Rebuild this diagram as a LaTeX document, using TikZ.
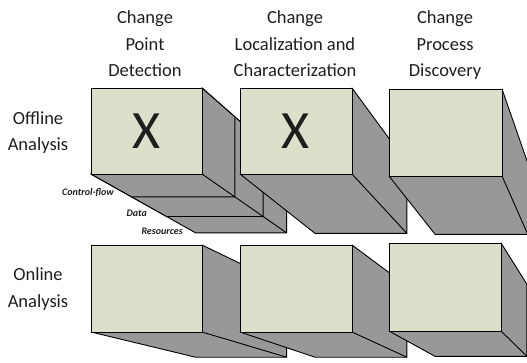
\documentclass[tikz,border=0pt]{standalone}
\usepackage{fontspec}
\setmainfont{Carlito}
\usetikzlibrary{calc}
\pgfdeclarelayer{background}
\pgfsetlayers{background,main}
\definecolor{facec}{HTML}{DCE0CB}
\definecolor{sidec}{HTML}{989898}
\definecolor{txtc}{HTML}{1E1E1E}
\tikzset{
  frontface/.style={draw=black, fill=facec, line width=0.9pt, inner sep=0pt, outer sep=0pt,
    anchor=north west, font=\fontsize{54}{54}\selectfont, text=txtc},
  sideface/.style={draw=black, fill=sidec, line width=0.9pt, line join=round},
  header/.style={align=center, anchor=north, inner sep=0pt, text=txtc,
    font=\fontsize{18.5}{26.5}\selectfont},
  layerlabel/.style={anchor=east, inner sep=0pt, text=txtc,
    font=\fontsize{10}{10}\selectfont\bfseries\itshape},
}
% #1 front node, #2 vanishing point, #3 depth factor
\newcommand{\myextrude}[3]{%
  \begin{pgfonlayer}{background}
  \filldraw[sideface] (#1.north east) -- ($(#1.north east)!#3!(#2)$)
    -- ($(#1.south east)!#3!(#2)$) -- ($(#1.south west)!#3!(#2)$)
    -- (#1.south west) -- (#1.south east) -- cycle;
  \draw[sideface] (#1.south east) -- ($(#1.south east)!#3!(#2)$);
  \end{pgfonlayer}}
\begin{document}
\begin{tikzpicture}[x=1pt, y=-1pt]
\useasboundingbox (0,0) rectangle (527,362);
\clip (0,0) rectangle (527,362);

% vanishing points
\coordinate (vpA) at (672,501);
\coordinate (vpB) at (657,504);
\coordinate (vpC) at (645,500);
\coordinate (vpD) at (672,472);
\coordinate (vpE) at (657,472);
\coordinate (vpF) at (645,472);

% headers
\node[header] (h1) at (145,10.5) {Change\\Point\\Detection};
\node[header] (h2) at (295,10.5) {Change\\Localization and\\Characterization};
\node[header] (h3) at (445,10.5) {Change\\Process\\Discovery};

% row labels
\node[header, anchor=north] (r1) at (38,111.5) {Offline\\Analysis};
\node[header, anchor=north] (r2) at (38,267.5) {Online\\Analysis};

% row 1
\node[frontface, minimum width=111pt, minimum height=86pt] (A) at (91,88) {X};
\myextrude{A}{vpA}{0.18}
\myextrude{A}{vpA}{0.13}
\myextrude{A}{vpA}{0.07}
\node[frontface, minimum width=112pt, minimum height=86pt] (B) at (240,88) {X};
\myextrude{B}{vpB}{0.18}
\node[frontface, minimum width=113pt, minimum height=87pt] (C) at (389,89) {};
\myextrude{C}{vpC}{0.18}

% layer labels
\node[layerlabel] (l1) at (114,193) {Control-flow};
\node[layerlabel] (l2) at (147,213) {Data};
\node[layerlabel] (l3) at (183,231) {Resources};

% row 2
\node[frontface, minimum width=111pt, minimum height=87pt] (D) at (91,245) {};
\myextrude{D}{vpD}{0.18}
\node[frontface, minimum width=112pt, minimum height=87pt] (E) at (240,245) {};
\myextrude{E}{vpE}{0.18}
\node[frontface, minimum width=112pt, minimum height=88pt] (F) at (389,243) {};
\myextrude{F}{vpF}{0.18}
\end{tikzpicture}
\end{document}
